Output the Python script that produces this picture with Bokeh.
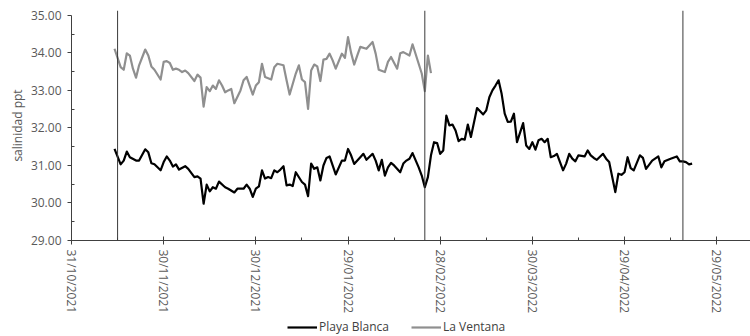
import math
import pandas as pd
from bokeh.plotting import figure
from bokeh.layouts import column
from bokeh.models import (FixedTicker, NumeralTickFormatter, DatetimeTickFormatter,
                          Span, Legend, LegendItem, ColumnDataSource, Range1d)
from bokeh.embed import file_html
from bokeh.resources import INLINE

# Day numbers are counted from 31/10/2021
START = pd.Timestamp("2021-10-31")

# Playa Blanca salinity (ppt)
pb_day = [14, 16, 17, 18, 19, 21, 22, 24, 25, 26,
          27, 29, 30, 31, 32, 33, 34, 35, 37, 38,
          40, 41, 42, 43, 44, 45, 46, 47, 48, 50,
          51, 53, 54, 56, 57, 58, 59, 60, 61, 62,
          63, 64, 65, 66, 67, 68, 69, 70, 71, 72,
          73, 75, 76, 77, 78, 79, 80, 81, 82, 83,
          84, 85, 86, 88, 89, 90, 91, 92, 94, 95,
          96, 98, 99, 100, 101, 102, 103, 104, 105, 107,
          108, 109, 110, 111, 113, 114, 115, 116, 117, 118,
          119, 120, 121, 122, 123, 124, 125, 126, 127, 128,
          129, 130, 132, 134, 135, 136, 137, 138, 139, 140,
          141, 142, 143, 144, 145, 147, 148, 149, 150, 151,
          152, 153, 154, 155, 156, 157, 158, 159, 160, 161,
          162, 163, 164, 165, 167, 168, 169, 170, 171, 173,
          174, 175, 177, 178, 179, 180, 181, 182, 183, 185,
          186, 187, 189, 191, 192, 193, 195, 197, 198, 199,
          200, 201, 202]
pb_sal = [31.44, 31.03, 31.13, 31.37, 31.22, 31.13, 31.13, 31.43, 31.35, 31.06,
          31.03, 30.87, 31.09, 31.24, 31.13, 30.97, 31.03, 30.89, 30.98, 30.91,
          30.69, 30.71, 30.65, 29.98, 30.49, 30.31, 30.42, 30.38, 30.57, 30.42,
          30.38, 30.28, 30.38, 30.38, 30.49, 30.38, 30.16, 30.38, 30.44, 30.87,
          30.65, 30.69, 30.66, 30.87, 30.82, 30.89, 30.98, 30.47, 30.49, 30.45,
          30.82, 30.56, 30.49, 30.18, 31.05, 30.91, 30.95, 30.60, 31.00, 31.20,
          31.24, 31.00, 30.76, 31.13, 31.13, 31.44, 31.27, 31.04, 31.22, 31.31,
          31.15, 31.31, 31.13, 30.87, 31.15, 30.73, 30.95, 31.07, 31.00, 30.82,
          31.05, 31.13, 31.18, 31.33, 30.95, 30.73, 30.42, 30.69, 31.27, 31.62,
          31.60, 31.31, 31.40, 32.33, 32.07, 32.09, 31.93, 31.65, 31.71, 31.69,
          32.09, 31.76, 32.53, 32.36, 32.47, 32.82, 33.00, 33.13, 33.27, 32.91,
          32.38, 32.16, 32.17, 32.38, 31.62, 32.13, 31.53, 31.44, 31.62, 31.42,
          31.67, 31.71, 31.62, 31.71, 31.22, 31.25, 31.31, 31.09, 30.87, 31.05,
          31.31, 31.18, 31.11, 31.27, 31.24, 31.40, 31.27, 31.20, 31.15, 31.31,
          31.18, 31.09, 30.29, 30.78, 30.75, 30.82, 31.22, 30.93, 30.87, 31.27,
          31.20, 30.91, 31.13, 31.24, 30.95, 31.11, 31.18, 31.24, 31.11, 31.11,
          31.09, 31.03, 31.05]

# La Ventana salinity (ppt)
lv_day = [14, 16, 17, 18, 19, 20, 21, 22, 24, 25,
          26, 27, 29, 30, 31, 32, 33, 34, 35, 36,
          37, 38, 40, 41, 42, 43, 44, 45, 46, 47,
          48, 49, 50, 51, 52, 53, 55, 56, 57, 59,
          60, 61, 62, 63, 65, 66, 67, 68, 69, 70,
          71, 73, 74, 75, 76, 77, 78, 79, 80, 81,
          82, 83, 84, 85, 86, 88, 89, 90, 91, 92,
          93, 94, 96, 98, 99, 100, 102, 103, 104, 106,
          107, 108, 110, 111, 113, 114, 115, 116, 117]
lv_sal = [34.11, 33.62, 33.55, 33.99, 33.93, 33.58, 33.34, 33.67, 34.09, 33.93,
          33.64, 33.55, 33.29, 33.76, 33.78, 33.73, 33.55, 33.58, 33.55, 33.49,
          33.53, 33.46, 33.25, 33.42, 33.34, 32.57, 33.09, 32.98, 33.13, 33.04,
          33.27, 33.13, 32.95, 33.00, 33.04, 32.66, 33.00, 33.27, 33.36, 32.89,
          33.13, 33.22, 33.71, 33.36, 33.29, 33.62, 33.71, 33.69, 33.67, 33.27,
          32.89, 33.45, 33.67, 33.29, 33.22, 32.51, 33.53, 33.69, 33.64, 33.25,
          33.82, 33.84, 33.98, 33.80, 33.58, 33.98, 33.87, 34.42, 34.00, 33.69,
          33.93, 34.16, 34.11, 34.29, 33.98, 33.55, 33.49, 33.76, 33.89, 33.58,
          33.99, 34.02, 33.93, 34.23, 33.71, 33.45, 32.98, 33.93, 33.46]

# Reference dates marked with vertical lines
marker_dates = ["2021-11-15", "2022-02-23", "2022-05-18"]

# Axis ticks (every 30 days, minor every 15)
tick_dates = ["2021-10-31", "2021-11-30", "2021-12-30", "2022-01-29",
              "2022-02-28", "2022-03-30", "2022-04-29", "2022-05-29"]
y_ticks = [29, 30, 31, 32, 33, 34, 35]

FONT = "Open Sans"
TXT = "#595959"
AXIS = "#404040"
PB_STYLE = dict(line_color="#000000", line_width=2.2, line_join="round")
LV_STYLE = dict(line_color="#8f8f8f", line_width=2.2, line_join="round")


def ms(ts):
    return pd.Timestamp(ts).value / 1e6


def to_dates(days):
    return [START + pd.Timedelta(days=d) for d in days]


pb_src = ColumnDataSource(dict(x=to_dates(pb_day), y=pb_sal))
lv_src = ColumnDataSource(dict(x=to_dates(lv_day), y=lv_sal))

x_range = Range1d(START, START + pd.Timedelta(days=221))

p = figure(width=750, height=316, x_axis_type="datetime",
           x_range=x_range, y_range=Range1d(29, 35.13),
           output_backend="svg", toolbar_location=None,
           min_border_left=71, min_border_right=0, min_border_top=10,
           min_border_bottom=76)
p.outline_line_color = None
p.xgrid.visible = False
p.ygrid.visible = False

for d in marker_dates:
    p.add_layout(Span(location=ms(d), dimension="height",
                      line_color="#3a3a3a", line_width=1))

p.line("x", "y", source=lv_src, **LV_STYLE)
p.line("x", "y", source=pb_src, **PB_STYLE)

# x axis
tick_ms = [ms(t) for t in tick_dates]
minor_ms = [(a + b) / 2 for a, b in zip(tick_ms[:-1], tick_ms[1:])]
minor_ms.append(tick_ms[-1] + (tick_ms[1] - tick_ms[0]) / 2)
xa = p.xaxis[0]
xa.ticker = FixedTicker(ticks=tick_ms, minor_ticks=minor_ms)
fmt = "%d/%m/%Y"
xa.formatter = DatetimeTickFormatter(
    milliseconds=fmt, seconds=fmt, minsec=fmt, minutes=fmt, hourmin=fmt,
    hours=fmt, days=fmt, months=fmt, years=fmt)
xa.major_label_orientation = -math.pi / 2
xa.major_label_text_font = FONT
xa.major_label_text_font_size = "12px"
xa.major_label_text_color = TXT
xa.major_label_standoff = 5
xa.major_tick_in = 4
xa.major_tick_out = 4
xa.minor_tick_in = 3
xa.minor_tick_out = 0
xa.axis_line_color = AXIS
xa.major_tick_line_color = AXIS
xa.minor_tick_line_color = AXIS

# y axis
ya = p.yaxis[0]
ya.ticker = FixedTicker(ticks=y_ticks,
                        minor_ticks=[v + 0.5 for v in y_ticks[:-1]])
ya.bounds = (29, 35)
ya.formatter = NumeralTickFormatter(format="0.00")
ya.major_label_text_font = FONT
ya.major_label_text_font_size = "12px"
ya.major_label_text_color = TXT
ya.major_label_standoff = 6
ya.major_tick_in = 0
ya.major_tick_out = 4
ya.minor_tick_in = 3
ya.minor_tick_out = 0
ya.axis_line_color = AXIS
ya.major_tick_line_color = AXIS
ya.minor_tick_line_color = AXIS
ya.axis_label = "salinidad ppt"
ya.axis_label_text_font = FONT
ya.axis_label_text_font_size = "12px"
ya.axis_label_text_font_style = "normal"
ya.axis_label_text_color = TXT
ya.axis_label_standoff = 2

# Legend strip under the chart: same series, empty salinity window
leg = figure(width=750, height=20, x_axis_type="datetime",
             x_range=x_range, y_range=Range1d(0, 1),
             output_backend="svg", toolbar_location=None,
             x_axis_location=None, y_axis_location=None,
             min_border=0)
leg.outline_line_color = None
leg.xgrid.visible = False
leg.ygrid.visible = False
lr_pb = leg.line("x", "y", source=pb_src, **PB_STYLE)
lr_lv = leg.line("x", "y", source=lv_src, **LV_STYLE)

legend = Legend(items=[LegendItem(label="Playa Blanca", renderers=[lr_pb]),
                       LegendItem(label="La Ventana", renderers=[lr_lv])],
                orientation="horizontal", location=(216, 1),
                label_text_font=FONT, label_text_font_size="12px",
                label_text_color="#404040", glyph_width=30, glyph_height=12,
                label_standoff=2, spacing=22, padding=2, margin=0,
                border_line_color=None, background_fill_alpha=0)
leg.add_layout(legend, "center")

page = column(p, leg, spacing=0)
open("out.html", "w").write(file_html(page, INLINE))
